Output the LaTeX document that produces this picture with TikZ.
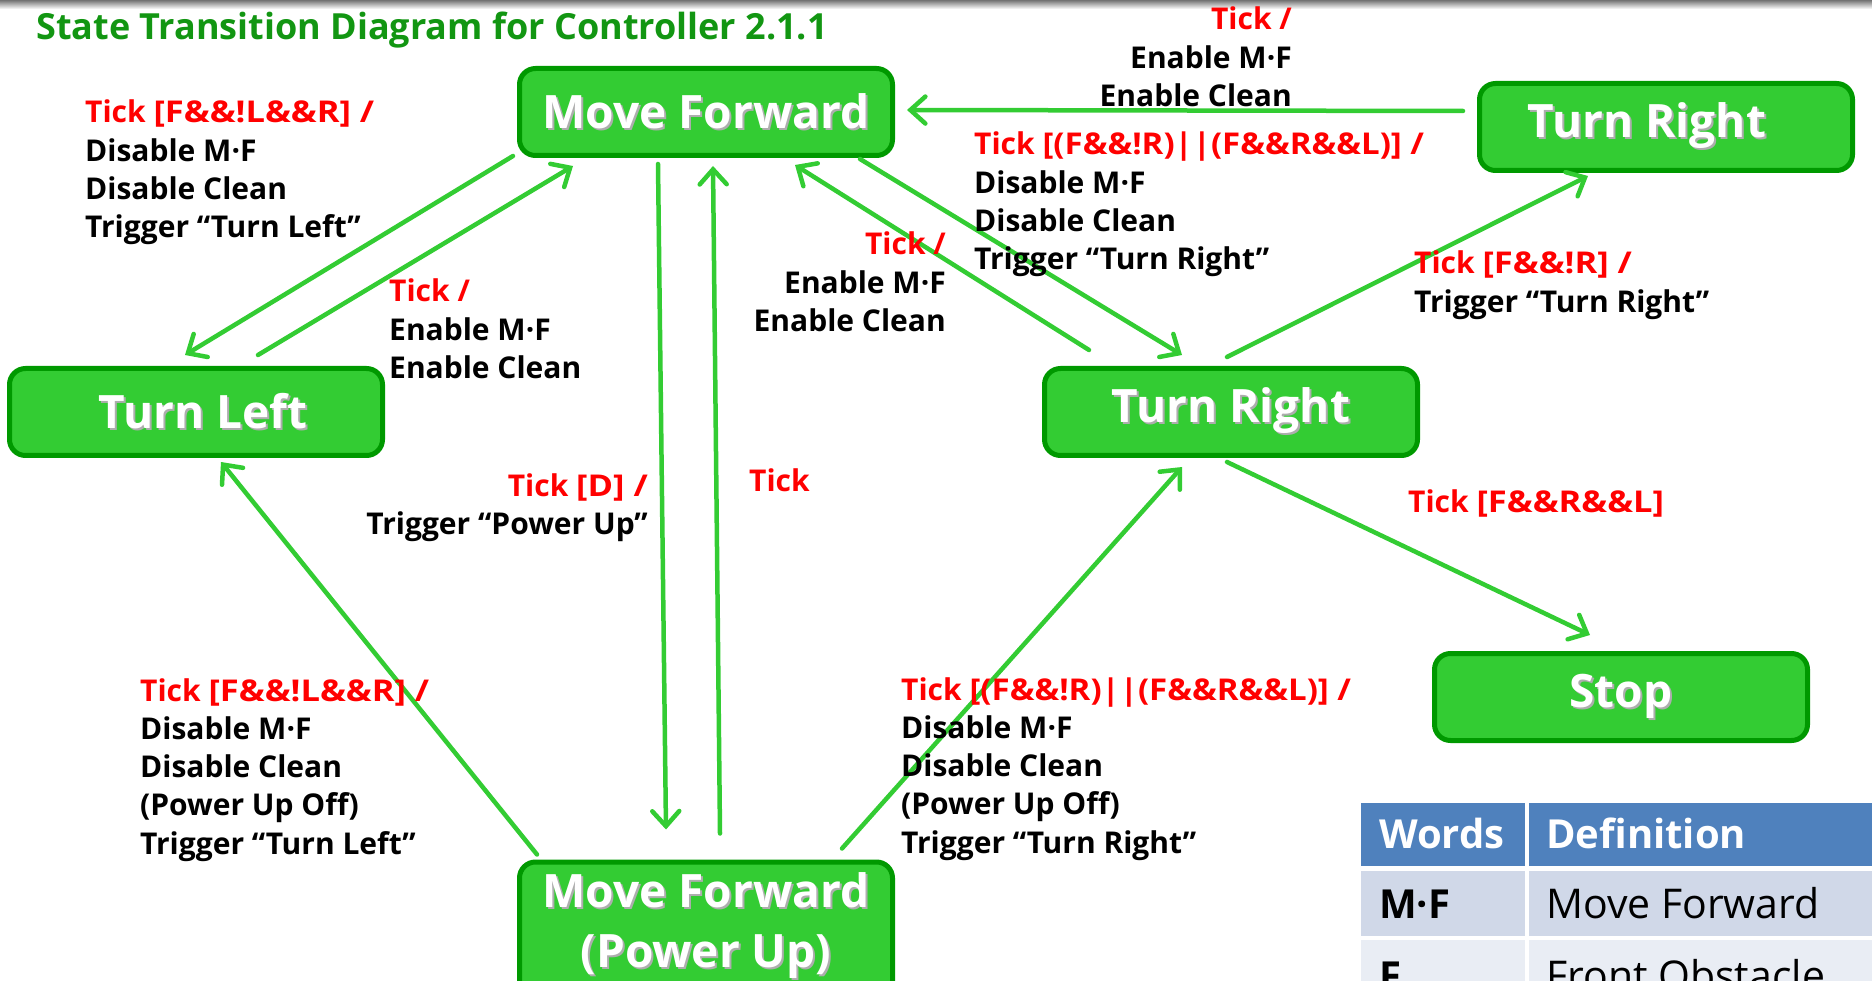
\documentclass[tikz,border=0pt]{standalone}
\usepackage{fontspec}
\setmainfont{Open Sans}
\usetikzlibrary{arrows.meta,calc}

\definecolor{boxfill}{HTML}{33CC33}
\definecolor{boxline}{HTML}{009900}
\definecolor{arrowgreen}{HTML}{33CC33}
\definecolor{titlegreen}{RGB}{18,150,18}
\definecolor{tickred}{HTML}{FF0000}
\definecolor{hdrblue}{HTML}{4F81BD}
\definecolor{rowa}{HTML}{D0D8E8}
\definecolor{rowb}{HTML}{E9EDF4}

% white state text with a soft drop shadow
\newcommand\shtxt[1]{\leavevmode\rlap{\kern2pt\raisebox{-2pt}{\textcolor{black!32}{#1}}}#1}
% red trigger/guard part of a transition label
\newcommand\tk[1]{\textcolor{tickred}{#1}}
% guard expressions are set a little wider
\newcommand\grd[2][1.15]{\scalebox{#1}[1]{#2}}
% stacked label lines, baseline on the first line
\newcommand\stack[2]{\begin{tabular}[t]{@{}#1@{}}#2\end{tabular}}

\begin{document}
\begin{tikzpicture}[x=1pt,y=1pt,
  statebox/.style={draw=boxline, line width=5pt, fill=boxfill, rounded corners=16pt,
    minimum width=373pt, minimum height=87pt, inner sep=0pt, text=white,
    font=\fontsize{46}{58}\selectfont\bfseries},
  boxtxt/.style={inner sep=0pt, text=white, align=center,
    font=\fontsize{46}{60}\selectfont\bfseries},
  lbl/.style={inner sep=0pt, text=black, font=\fontsize{30}{38.3}\selectfont\bfseries},
  conn/.style={draw=arrowgreen, line width=4.5pt, line cap=round,
    -{Straight Barb[length=15pt,width=27pt,line cap=round]}},
  cell/.style={inner sep=0pt, anchor=base west, font=\fontsize{41}{48}\selectfont},
  hcell/.style={cell, font=\fontsize{40}{48}\selectfont\bfseries}
]
\useasboundingbox (0,0) rectangle (1872,-981);
\clip (0,0) rectangle (1872,-981);

% thin grey band along the top edge
\shade[top color=black!55, bottom color=white] (0,0) rectangle (1872,-9);

% title
\node[anchor=base west, inner sep=0pt, text=titlegreen,
  font=\fontsize{36}{42}\selectfont\bfseries] (title) at (36,-40)
  {State Transition Diagram for Controller 2.1.1};

% states
\node[statebox] (mf)   at (706,-112)  {\shtxt{Move Forward}};
\node[statebox] (tr1)  at (1666,-127) {\shtxt{Turn Right}\kern38pt};
\node[statebox] (tl)   at (196,-412)  {\kern14pt\shtxt{Turn Left}};
\node[statebox] (tr2)  at (1231,-412) {\shtxt{Turn Right}};
\node[statebox] (stop) at (1621,-697) {\shtxt{Stop}};
\node[statebox, minimum height=150pt] (mfp) at (706,-937) {};
\node[boxtxt] (mfptext) at (706,-927) {\shtxt{Move Forward}\\\shtxt{(Power Up)}};

% transitions
\draw[conn] ($(mf.south west)+(-4,2)$) -- ($(tl.north)+(-11,11)$);
\draw[conn] ($(tl.north)+(62,11)$) -- ($(mf.south)+(-133,-8)$);
\draw[conn] ($(mf.south)+(-48,-6)$) -- ($(mfp.north)+(-40,30)$);
\draw[conn] ($(mfp.north)+(14,26)$) -- ($(mf.south)+(7,-8)$);
\draw[conn] ($(tr2.north)+(-142,16)$) -- ($(mf.south)+(89,-7)$);
\draw[conn] ($(mf.south)+(154,-1)$) -- ($(tr2.north)+(-49,11)$);
\draw[conn] ($(tr2.north)+(-4,9)$) -- ($(tr1.south)+(-78,-3)$);
\draw[conn] ($(tr1.west)+(-14,16)$) -- ($(mf.east)+(12,2)$);
\draw[conn] ($(tr2.south)+(-4,-4)$) -- ($(stop.north)+(-31,16)$);
\draw[conn] ($(mfp.north west)+(20,5)$) -- ($(tl.south)+(25,-4)$);
\draw[conn] ($(mfp.north)+(136,11)$) -- ($(tr2.south)+(-49,-9)$);

% transition labels
\node[lbl, anchor=base west] (l1) at (85,-123) {\stack{l}{\tk{Tick \grd{[F\&\&!L\&\&R] /}}\\Disable M·F\\Disable Clean\\Trigger “Turn Left”}};
\node[lbl, anchor=base west] (l2) at (389,-302) {\stack{l}{\tk{Tick /}\\Enable M·F\\Enable Clean}};
\node[lbl, anchor=base east] (l3) at (1292,-30) {\stack{r}{\tk{Tick /}\\Enable M·F\\Enable Clean}};
\node[lbl, anchor=base west] (l4) at (974,-155) {\stack{l}{\tk{Tick \grd[1.1]{[(F\&\&!R)||(F\&\&R\&\&L)] /}}\\Disable M·F\\Disable Clean\\Trigger “Turn Right”}};
\node[lbl, anchor=base east] (l5) at (946,-255) {\stack{r}{\tk{Tick /}\\Enable M·F\\Enable Clean}};
\node[lbl, anchor=base west] (l6) at (1414,-274) {\stack{l}{\tk{Tick \grd{[F\&\&!R] /}}\\Trigger “Turn Right”}};
\node[lbl, anchor=base east] (l7) at (648,-496) {\stack{r}{\tk{Tick \grd{[D] /}}\\Trigger “Power Up”}};
\node[lbl, anchor=base west] (l8) at (749,-491) {\tk{Tick}};
\node[lbl, anchor=base west] (l9) at (1408,-512) {\tk{Tick \grd{[F\&\&R\&\&L]}}};
\node[lbl, anchor=base west] (l10) at (140,-701) {\stack{l}{\tk{Tick \grd{[F\&\&!L\&\&R] /}}\\Disable M·F\\Disable Clean\\(Power Up Off)\\Trigger “Turn Left”}};
\node[lbl, anchor=base west] (l11) at (901,-700) {\stack{l}{\tk{Tick \grd[1.1]{[(F\&\&!R)||(F\&\&R\&\&L)] /}}\\Disable M·F\\Disable Clean\\(Power Up Off)\\Trigger “Turn Right”}};

% glossary table
\fill[hdrblue] (1361,-803) rectangle (1525,-866);
\fill[hdrblue] (1529,-803) rectangle (1880,-866);
\fill[rowa] (1361,-871) rectangle (1525,-936);
\fill[rowa] (1529,-871) rectangle (1880,-936);
\fill[rowb] (1361,-940) rectangle (1525,-1000);
\fill[rowb] (1529,-940) rectangle (1880,-1000);
\node[hcell, text=white] (hw) at (1379,-848) {Words};
\node[hcell, text=white] (hd) at (1546,-848) {Definition};
\node[hcell] (w1) at (1379,-918) {M·F};
\node[cell] (d1) at (1546,-918) {Move Forward};
\node[hcell] (w2) at (1379,-990) {F};
\node[cell] (d2) at (1546,-990) {Front Obstacle};
\end{tikzpicture}
\end{document}
